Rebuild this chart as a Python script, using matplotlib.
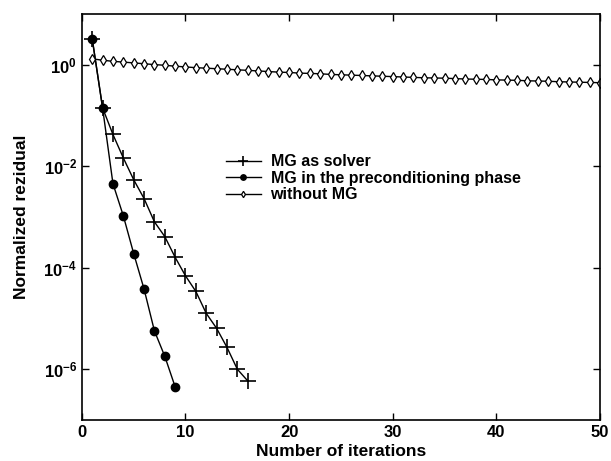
import matplotlib
matplotlib.use("Agg")
import matplotlib.pyplot as plt
from matplotlib.ticker import FixedLocator, NullLocator

plt.rcParams['font.family'] = ['Liberation Sans', 'DejaVu Sans']
plt.rcParams['mathtext.fontset'] = 'custom'
plt.rcParams['mathtext.rm'] = 'Liberation Sans'
plt.rcParams['mathtext.bf'] = 'Liberation Sans:bold'

iters_solver = [1, 2, 3, 4, 5, 6, 7, 8, 9, 10, 11, 12, 13, 14, 15, 16]
res_solver = [3.2, 0.14, 0.042, 0.0145, 0.0054, 0.0023, 8.0e-4, 4.1e-4, 1.6e-4,
              6.9e-5, 3.4e-5, 1.26e-5, 6.4e-6, 2.7e-6, 1.0e-6, 5.9e-7]

iters_precond = [1, 2, 3, 4, 5, 6, 7, 8, 9]
res_precond = [3.2, 0.14, 4.5e-3, 1.05e-3, 1.9e-4, 3.8e-5, 5.7e-6, 1.8e-6, 4.5e-7]

iters_nomg = list(range(1, 51))
res_nomg = [1.30, 1.22, 1.16, 1.12, 1.08, 1.04, 1.00, 0.97, 0.93, 0.90,
            0.87, 0.85, 0.83, 0.81, 0.79, 0.77, 0.75, 0.73, 0.71, 0.70,
            0.68, 0.67, 0.66, 0.64, 0.63, 0.62, 0.61, 0.60, 0.59, 0.58,
            0.57, 0.56, 0.55, 0.545, 0.54, 0.53, 0.52, 0.515, 0.51, 0.50,
            0.495, 0.49, 0.48, 0.475, 0.47, 0.46, 0.455, 0.45, 0.445, 0.44]

labels = ['MG as solver', 'MG in the preconditioning phase', 'without MG']
xticks = [0, 10, 20, 30, 40, 50]
yticks = [1e-6, 1e-4, 1e-2, 1e0]

fig = plt.figure(figsize=(6.11, 4.61), dpi=100)
ax = fig.add_axes([0.134, 0.089, 0.848, 0.881])

ax.semilogy(iters_solver, res_solver, color='black', lw=1.0, marker='+',
            markersize=11, markeredgewidth=1.2, label=labels[0])
ax.semilogy(iters_precond, res_precond, color='black', lw=1.0, marker='o',
            markersize=6, label=labels[1])
ax.semilogy(iters_nomg, res_nomg, color='black', lw=1.0, marker='d',
            markersize=5, markerfacecolor='white', markeredgewidth=0.9,
            label=labels[2])

ax.set_xlim(0, 50)
ax.set_ylim(1e-7, 1e1)
ax.xaxis.set_major_locator(FixedLocator(xticks))
ax.yaxis.set_major_locator(FixedLocator(yticks))
ax.yaxis.set_minor_locator(NullLocator())
ax.set_yticklabels([r'$\mathbf{10^{-6}}$', r'$\mathbf{10^{-4}}$',
                    r'$\mathbf{10^{-2}}$', r'$\mathbf{10^{0}}$'])
ax.tick_params(direction='in', top=True, right=True, length=5, width=1,
               labelsize=12)
for lbl in ax.get_xticklabels():
    lbl.set_fontweight('bold')
for s in ax.spines.values():
    s.set_linewidth(1.2)

ax.set_xlabel('Number of iterations', fontsize=12.5, fontweight='bold', labelpad=3)
ax.set_ylabel('Normalized rezidual', fontsize=12.5, fontweight='bold', labelpad=10)

ax.legend(loc='upper left', bbox_to_anchor=(0.25, 0.69), frameon=False,
          prop={'weight': 'bold', 'size': 11.5}, markerscale=0.65,
          handlelength=2.2, handletextpad=0.6, labelspacing=0.1)

fig.savefig('out.png', dpi=100)
